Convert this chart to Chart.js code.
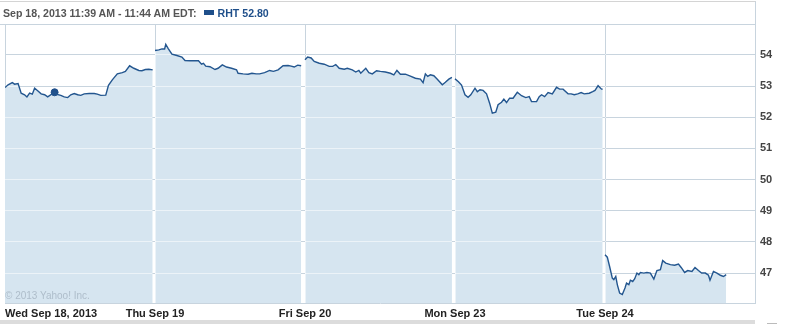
<!DOCTYPE html>
<html>
<head>
<meta charset="utf-8">
<script src="https://cdn.jsdelivr.net/npm/chart.js@4.4.0/dist/chart.umd.min.js"></script>
<style>
body { margin: 0; background: #fff; font-family: "Liberation Sans", Arial, sans-serif; }
#wrap { position: relative; width: 787px; height: 325px; overflow: hidden; }
#chart { position: absolute; left: 0; top: 0; }
#head { position: absolute; left: 0; top: 1px; width: 756px; height: 24px; box-sizing: border-box;
  border-top: 1px solid #d4d4d4; border-bottom: 1px solid #c8d4de; border-right: 1px solid #c8d4de;
  padding-left: 3px; font-size: 10.6px; font-weight: bold; line-height: 22px; color: #555; white-space: nowrap; }
#head .sw { display: inline-block; width: 10px; height: 5px; background: #1f4f8a; margin: 0 4px 0 7px; vertical-align: 2px; }
#head .sym { color: #1f4f8a; }
#copy { position: absolute; left: 5px; top: 290px; font-size: 10px; color: #aebdca; }
#slider { position: absolute; left: 0; top: 320px; width: 755px; height: 4px; background: #dcdcdc; }
#knob { position: absolute; left: 767px; top: 323px; width: 10px; height: 1px; background: #bbb; }
</style>
</head>
<body>
<div id="wrap">
  <canvas id="chart" width="787" height="325"></canvas>
  <div id="head">Sep 18, 2013 11:39 AM - 11:44 AM EDT:<span class="sw"></span><span class="sym">RHT 52.80</span></div>
  <div id="copy">© 2013 Yahoo! Inc.</div>
  <div id="slider"></div>
  <div id="knob"></div>
</div>
<script>
// x axis: one unit per trading day, minutes after the 9:30 open
const dayLabels = ['Wed Sep 18, 2013', 'Thu Sep 19', 'Fri Sep 20', 'Mon Sep 23', 'Tue Sep 24', ''];
const yTicks = [47, 48, 49, 50, 51, 52, 53, 54];

const wedMin = [0,8,19,25,34,42,51,57,64,71,77,85,94,103,111,129,133,145,154,163,171,180,189,197,206,219,232,240,249,262,269,279,292,305,313,324,335,348,356,365,374,384];
const wedPx = [52.95,53.04,53.11,53.06,53.08,52.77,52.72,52.65,52.77,52.74,52.93,52.85,52.75,52.72,52.65,52.80,52.74,52.70,52.65,52.63,52.72,52.76,52.72,52.70,52.75,52.76,52.76,52.74,52.70,52.71,53.02,53.20,53.39,53.43,53.47,53.65,53.57,53.50,53.49,53.53,53.54,53.52];

const thuMin = [0,10,18,25,28,34,44,57,70,78,91,104,113,121,126,132,143,156,164,175,186,199,212,216,229,242,252,263,272,285,298,308,320,333,346,354,362,371,380];
const thuPx = [54.14,54.16,54.19,54.19,54.34,54.21,54.02,53.98,53.93,53.82,53.81,53.81,53.81,53.70,53.73,53.64,53.62,53.53,53.57,53.68,53.61,53.57,53.52,53.41,53.39,53.38,53.41,53.39,53.39,53.43,53.50,53.47,53.52,53.65,53.66,53.64,53.61,53.67,53.65];

const friMin = [0,7,16,24,37,50,63,72,80,89,102,110,123,132,140,145,158,166,175,186,196,209,222,231,239,248,261,274,287,300,307,313,319,326,335,344,357,365,374,382];
const friPx = [53.84,53.93,53.90,53.79,53.73,53.70,53.63,53.63,53.69,53.57,53.54,53.57,53.52,53.45,53.50,53.41,53.57,53.43,53.39,53.49,53.47,53.45,53.41,53.36,53.50,53.38,53.38,53.32,53.25,53.22,53.11,53.39,53.31,53.36,53.33,53.22,53.04,53.12,53.22,53.28];

const monMin = [0,9,17,26,34,41,52,58,65,73,82,90,97,106,112,121,127,134,142,151,162,173,184,193,199,212,219,225,233,242,253,264,272,281,294,302,310,319,328,336,349,358,364,372,381,384];
const monPx = [53.23,53.14,53.03,52.72,52.64,52.72,52.93,52.82,52.88,52.86,52.75,52.45,52.13,52.16,52.40,52.48,52.58,52.47,52.61,52.61,52.80,52.69,52.63,52.66,52.50,52.50,52.66,52.72,52.66,52.79,52.75,52.96,52.90,52.90,52.75,52.75,52.72,52.75,52.79,52.75,52.77,52.82,52.86,53.01,52.90,52.90];

const tueMin = [0,6,12,19,23,28,32,38,45,52,56,62,66,72,77,83,88,92,101,109,118,127,135,144,150,158,170,181,191,198,207,215,226,234,243,251,261,269,273,282,291,300,308,315];
const tuePx = [47.59,47.51,47.21,46.84,46.79,46.89,46.63,46.36,46.31,46.52,46.68,46.63,46.77,46.73,46.81,47.00,46.95,47.02,47.00,47.02,47.00,46.81,47.08,47.11,47.40,47.32,47.27,47.25,47.29,47.18,47.02,47.08,47.05,47.18,47.08,47.00,47.00,46.93,46.77,47.05,47.00,46.93,46.89,46.95];

// hover point shown in the header
const markerDay = 0, markerMin = 129, markerPx = 52.80;

const sessionLen = 390;
const days = [[wedMin, wedPx], [thuMin, thuPx], [friMin, friPx], [monMin, monPx], [tueMin, tuePx]];

const datasets = days.map(([mins, prices], d) => ({
    data: mins.map((m, i) => ({ x: d + m / sessionLen, y: prices[i] })),
    borderColor: '#23568f',
    borderWidth: 1.4,
    backgroundColor: '#d6e5f0',
    fill: 'start',
    pointRadius: 0,
    tension: 0
}));
datasets.push({
    data: [{ x: markerDay + markerMin / sessionLen, y: markerPx }],
    showLine: false,
    pointRadius: 3.5,
    pointBackgroundColor: '#1f4f8a',
    pointBorderColor: '#1f4f8a'
});

// same rounding Chart.js uses for 1px grid lines
const align = p => Math.round(p - 0.5) + 0.5;

// lighten grid lines where they cross the filled area
const gridGlow = {
    id: 'gridGlow',
    beforeDatasetsDraw(chart) {
        const { ctx, chartArea: a, scales: { x, y } } = chart;
        ctx.save();
        ctx.strokeStyle = 'rgba(255,255,255,0.55)';
        ctx.lineWidth = 1;
        ctx.beginPath();
        [1, 2, 3, 4].forEach(v => {
            const px = align(x.getPixelForValue(v));
            ctx.moveTo(px, a.top); ctx.lineTo(px, a.bottom);
        });
        yTicks.forEach(v => {
            const py = align(y.getPixelForValue(v));
            ctx.moveTo(a.left, py); ctx.lineTo(a.right, py);
        });
        ctx.stroke();
        ctx.restore();
    }
};

new Chart(document.getElementById('chart'), {
    type: 'line',
    data: { datasets },
    plugins: [gridGlow],
    options: {
        responsive: false,
        animation: false,
        layout: { padding: { top: 24, left: 1, right: 0, bottom: 5 } },
        plugins: {
            legend: { display: false },
            tooltip: { enabled: false },
            filler: { drawTime: 'beforeDatasetsDraw' }
        },
        scales: {
            x: {
                type: 'linear',
                min: 0,
                max: 5,
                afterBuildTicks: s => { s.ticks = [0, 1, 2, 3, 4, 5].map(v => ({ value: v })); },
                afterFit: s => { s.height = 17; },
                grid: {
                    drawTicks: false,
                    color: c => (c.tick && (c.tick.value === 0 || c.tick.value === 5)) ? '#c8d4de' : '#85a0b6'
                },
                border: { color: '#c8d4de' },
                ticks: {
                    align: 'inner',
                    maxRotation: 0,
                    autoSkip: false,
                    padding: 4,
                    color: '#222',
                    font: { family: 'Liberation Sans', size: 11, weight: 'bold' },
                    callback: v => dayLabels[v]
                }
            },
            y: {
                position: 'right',
                min: 46.04,
                max: 54.99,
                afterBuildTicks: s => { s.ticks = yTicks.map(v => ({ value: v })); },
                afterFit: s => { s.width = 32; },
                grid: { drawTicks: false, color: '#85a0b6' },
                border: { color: '#c8d4de' },
                ticks: {
                    padding: 5,
                    color: '#444',
                    font: { family: 'Liberation Sans', size: 11, weight: 'bold' },
                    callback: v => String(v)
                }
            }
        }
    }
});
</script>
</body>
</html>
